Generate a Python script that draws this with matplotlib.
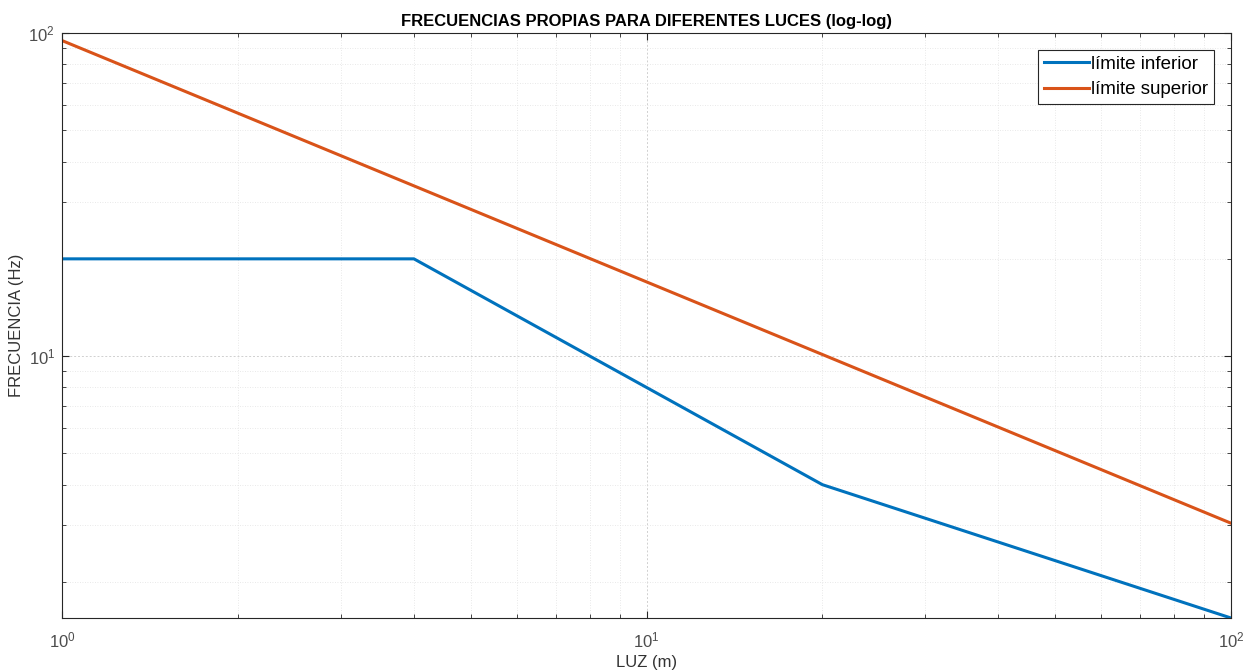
import matplotlib.pyplot as plt
from matplotlib.ticker import LogLocator, NullFormatter

plt.rcParams['font.family'] = ['Liberation Sans', 'DejaVu Sans']

# luz (m) y frecuencias (Hz)
luz_inf = [1, 4, 20, 100]
frec_inf = [20, 20, 4, 1.547]
luz_sup = [1, 100]
frec_sup = [94.76, 3.04]
etiquetas = ['límite inferior', 'límite superior']

fig = plt.figure(figsize=(12.54, 6.70), dpi=100)
ax = fig.add_axes([62 / 1254, 1 - 618 / 670, (1231 - 62) / 1254, (618 - 33) / 670])

ax.loglog(luz_inf, frec_inf, color='#0072BD', lw=2.2, label=etiquetas[0])
ax.loglog(luz_sup, frec_sup, color='#D95319', lw=2.2, label=etiquetas[1])

ax.set_xlim(1, 100)
ax.set_ylim(1.547, 100)

ax.xaxis.set_minor_locator(LogLocator(base=10, subs=range(2, 10)))
ax.yaxis.set_minor_locator(LogLocator(base=10, subs=range(2, 10)))
ax.xaxis.set_minor_formatter(NullFormatter())
ax.yaxis.set_minor_formatter(NullFormatter())

ax.grid(True, which='major', color='#d0d0d0', ls=(0, (2, 2)), lw=0.7)
ax.grid(True, which='minor', color='#e2e2e2', ls=(0, (1, 2)), lw=0.6)
ax.tick_params(which='both', direction='in', top=True, right=True, colors='#262626',
               labelcolor='#4d4d4d', labelsize=12)
ax.tick_params(which='major', length=5)
ax.tick_params(which='minor', length=3)
ax.tick_params(axis='x', which='major', pad=9)
ax.tick_params(axis='y', which='major', pad=5)
for s in ax.spines.values():
    s.set_color('#262626')
    s.set_linewidth(0.8)

ax.set_xlabel('LUZ (m)', fontsize=12, color='#333333', labelpad=3)
ax.set_ylabel('FRECUENCIA (Hz)', fontsize=12, color='#333333', labelpad=3)
ax.set_title('FRECUENCIAS PROPIAS PARA DIFERENTES LUCES (log-log)', fontsize=12,
             fontweight='bold', pad=5)

leg = ax.legend(loc='upper right', fontsize=13.5, fancybox=False, framealpha=1,
                edgecolor='#262626', borderpad=0.3, handlelength=2.4,
                handletextpad=0.15, labelspacing=0.45, borderaxespad=0.9)
leg.get_frame().set_linewidth(0.8)

fig.savefig('out.png', dpi=100)
